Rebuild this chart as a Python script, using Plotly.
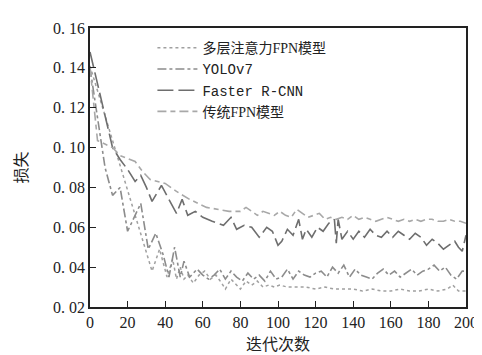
import plotly.graph_objects as go

# ---- data ----
names = ["多层注意力FPN模型", "YOLOv7", "Faster R-CNN", "传统FPN模型"]

x_attn = [0, 33, 37, 41, 44, 46, 48, 50, 52, 55, 58, 61, 64, 67, 70, 72, 75, 78, 80, 83, 86, 89, 92, 95, 98,
          101, 105, 110, 115, 120, 125, 130, 135, 140, 145, 150, 155, 160, 165, 170, 175, 180, 185, 190, 193, 196, 200]
y_attn = [0.141, 0.038, 0.049, 0.035, 0.044, 0.034, 0.040, 0.034, 0.036, 0.032, 0.036, 0.038, 0.034, 0.036, 0.032,
          0.029, 0.034, 0.031, 0.029, 0.033, 0.031, 0.033, 0.030, 0.031, 0.030, 0.031, 0.030, 0.030, 0.030, 0.029,
          0.030, 0.029, 0.029, 0.029, 0.028, 0.029, 0.028, 0.028, 0.029, 0.028, 0.028, 0.029, 0.028, 0.029, 0.031,
          0.028, 0.028]

x_yolo = [0, 8, 12, 16, 20, 27, 31, 35, 39, 42, 45, 48, 50, 53, 57, 60, 63, 66, 69, 72, 75, 78, 81, 84, 87, 90,
          93, 96, 99, 102, 105, 108, 111, 114, 117, 120, 123, 126, 129, 132, 135, 138, 141, 144, 147, 150, 153,
          156, 159, 162, 165, 168, 171, 174, 177, 180, 183, 186, 189, 192, 195, 198, 200]
y_yolo = [0.140, 0.090, 0.076, 0.080, 0.058, 0.072, 0.049, 0.057, 0.046, 0.035, 0.050, 0.035, 0.043, 0.035,
          0.039, 0.036, 0.034, 0.036, 0.039, 0.034, 0.038, 0.035, 0.033, 0.037, 0.034, 0.036, 0.033, 0.038, 0.034,
          0.035, 0.039, 0.034, 0.038, 0.036, 0.035, 0.037, 0.038, 0.035, 0.040, 0.037, 0.041, 0.035, 0.039, 0.036,
          0.035, 0.034, 0.037, 0.039, 0.036, 0.038, 0.035, 0.037, 0.039, 0.036, 0.038, 0.039, 0.041, 0.038, 0.040,
          0.036, 0.034, 0.038, 0.038]

x_frcnn = [0, 12, 16, 20, 24, 27, 30, 33, 38, 42, 46, 49, 52, 56, 60, 65, 71, 75, 78, 82, 86, 90, 94, 97, 100,
           102, 105, 108, 111, 113, 115, 118, 121, 124, 127, 130, 131, 132, 134, 137, 140, 143, 146, 149, 152,
           155, 158, 161, 164, 167, 170, 173, 176, 179, 182, 185, 188, 191, 194, 196, 198, 200]
y_frcnn = [0.148, 0.100, 0.094, 0.089, 0.083, 0.086, 0.080, 0.073, 0.081, 0.074, 0.067, 0.074, 0.066, 0.068,
           0.065, 0.063, 0.061, 0.065, 0.059, 0.061, 0.060, 0.055, 0.060, 0.058, 0.051, 0.053, 0.059, 0.056,
           0.064, 0.054, 0.059, 0.055, 0.060, 0.058, 0.062, 0.064, 0.052, 0.064, 0.054, 0.058, 0.054, 0.058,
           0.055, 0.059, 0.056, 0.055, 0.058, 0.055, 0.058, 0.056, 0.054, 0.057, 0.055, 0.051, 0.054, 0.052,
           0.049, 0.051, 0.053, 0.050, 0.048, 0.056]

x_fpn = [0, 4, 12, 16, 24, 28, 32, 40, 46, 53, 62, 68, 74, 80, 83, 86, 89, 92, 95, 98, 101, 104, 107, 110, 113,
         116, 119, 122, 125, 128, 131, 134, 137, 140, 143, 146, 149, 152, 155, 158, 161, 164, 167, 170, 173, 176,
         179, 182, 185, 188, 191, 194, 197, 200]
y_fpn = [0.140, 0.1035, 0.100, 0.096, 0.093, 0.088, 0.084, 0.082, 0.078, 0.074, 0.070, 0.069, 0.068, 0.068,
         0.070, 0.068, 0.066, 0.068, 0.067, 0.066, 0.068, 0.066, 0.065, 0.069, 0.067, 0.065, 0.066, 0.067, 0.064,
         0.065, 0.064, 0.065, 0.064, 0.066, 0.064, 0.065, 0.064, 0.063, 0.064, 0.065, 0.064, 0.063, 0.064, 0.063,
         0.064, 0.063, 0.064, 0.064, 0.063, 0.063, 0.064, 0.063, 0.063, 0.062]

x_ticks = [0, 20, 40, 60, 80, 100, 120, 140, 160, 180, 200]
y_ticks = [0.02, 0.04, 0.06, 0.08, 0.10, 0.12, 0.14, 0.16]
y_ticktext = ["0. 02", "0. 04", "0. 06", "0. 08", "0. 10", "0. 12", "0. 14", "0. 16"]

mono = "Liberation Mono, DejaVu Sans Mono, monospace"
serif = "Liberation Serif, DejaVu Serif, serif"
cjk = "Noto Sans CJK SC, sans-serif"

legend_labels = [
    f"多层注意力<span style='font-family:{serif}'>FPN</span>模型",
    f"<span style='font-family:{mono}'>{names[1]}</span>",
    f"<span style='font-family:{mono}'>{names[2]}</span>",
    f"传统<span style='font-family:{serif}'>FPN</span>模型",
]

series = [
    (x_attn, y_attn, "#a0a0a0", "dot", 1.5),
    (x_yolo, y_yolo, "#8c8c8c", "dashdot", 1.6),
    (x_frcnn, y_frcnn, "#6e6e6e", "16px,5px", 1.6),
    (x_fpn, y_fpn, "#a8a8a8", "9px,4px,5px,4px", 1.6),
]

fig = go.Figure()
for (xs, ys, col, dash, w), lab in zip(series, legend_labels):
    fig.add_trace(go.Scatter(x=xs, y=ys, mode="lines", name=lab,
                             line=dict(color=col, dash=dash, width=w)))

fig.update_layout(
    width=482, height=355,
    margin=dict(l=82, r=20, t=19, b=56),
    paper_bgcolor="white", plot_bgcolor="white",
    font=dict(family=cjk, size=15, color="#222"),
    showlegend=True,
    legend=dict(x=0.166, y=0.985, xanchor="left", yanchor="top",
                bgcolor="rgba(0,0,0,0)", borderwidth=0,
                font=dict(family=cjk, size=14, color="#222"),
                tracegroupgap=0, itemwidth=40),
    xaxis=dict(range=[0, 200], tickvals=x_ticks, ticks="inside", ticklen=6,
               tickcolor="#222", showline=True, linecolor="#222", linewidth=1.5,
               mirror=True, showgrid=False, zeroline=False,
               tickfont=dict(family=serif, size=16, color="#222"),
               title=dict(text="迭代次数", font=dict(family=cjk, size=16, color="#222"), standoff=6)),
    yaxis=dict(range=[0.02, 0.16], tickvals=y_ticks, ticktext=y_ticktext, ticks="inside",
               ticklen=6, tickcolor="#222", showline=True, linecolor="#222", linewidth=1.5,
               mirror=True, showgrid=False, zeroline=False,
               tickfont=dict(family=serif, size=16, color="#222"),
               title=dict(text="损失", font=dict(family=cjk, size=16, color="#222"), standoff=22)),
)

fig.write_html("out.html")
